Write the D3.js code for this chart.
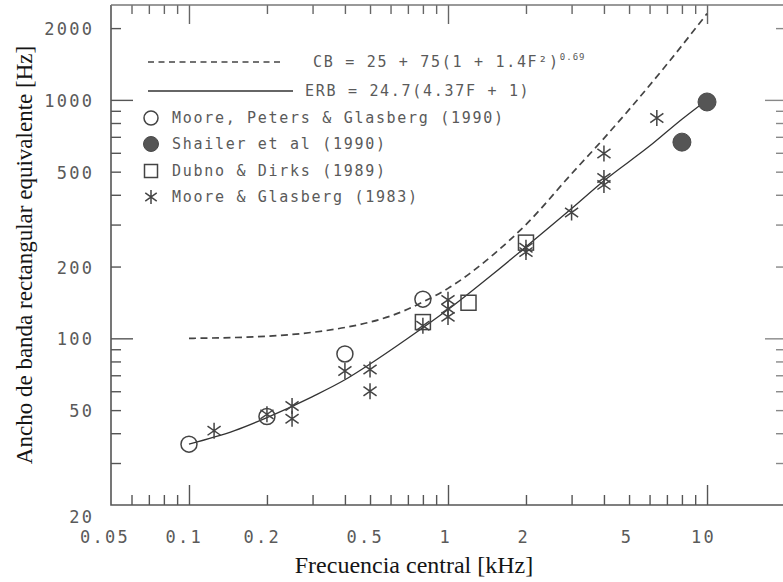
<!DOCTYPE html>
<html>
<head>
<meta charset="utf-8">
<script src="https://cdn.jsdelivr.net/npm/d3@7"></script>
<style>
  body { margin: 0; background: #fff; }
  svg { display: block; }
  .tl { font-family: "DejaVu Sans Mono", monospace; fill: #5a5a5a; }
  .ttl { font-family: "Liberation Serif", "Times New Roman", serif; fill: #151515; }
</style>
</head>
<body>
<script>
"use strict";
// axis labels (kHz / Hz)
const xLabels = [0.05, 0.1, 0.2, 0.5, 1, 2, 5, 10];
const yLabels = [20, 50, 100, 200, 500, 1000, 2000];
const xMajor = [0.1, 1, 10];
const yMajor = [100, 1000];

// curves: [kHz, Hz]
const cbCurve = [[0.1,100],[0.2,102],[0.3,106],[0.4,111],[0.5,117],[0.6,124],[0.8,142],[1,162],
  [1.5,225],[2,300],[3,490],[4,690],[5,910],[7,1410],[10,2300]];
const erbCurve = [[0.1,36],[0.15,41],[0.2,46.5],[0.3,57],[0.4,67],[0.5,78],[0.7,100],[1,132],
  [1.5,187],[2,242],[3,350],[4,458],[6,640],[8,830],[10,1000]];

// measured points
const moorePeters1990 = [[0.1,36],[0.2,47],[0.4,86],[0.8,146]];
const shailer1990 = [[8,665],[10,980]];
const dubnoDirks1989 = [[0.8,117],[1.2,141],[2,252]];
const mooreGlasberg1983 = [[0.125,41],[0.2,48],[0.25,52],[0.25,46],[0.4,73],[0.5,74],[0.5,60],
  [0.8,113],[1,145],[1,133],[1,123],[2,240],[2,230],[3,337],[4,596],[4,470],[4,440],[6.4,840]];

const legendNames = ["Moore, Peters & Glasberg (1990)", "Shailer et al (1990)",
  "Dubno & Dirks (1989)", "Moore & Glasberg (1983)"];

const W = 783, H = 582;
const L = 111, R = 785, T = 5, B = 505;
const ink = "#444";

const x = d3.scaleLog().domain([0.05, 20]).range([L, R]);
const y = d3.scaleLog().domain([20, 2500]).range([B, T]);

const svg = d3.select("body").append("svg").attr("width", W).attr("height", H);

// tick positions: every integer multiple inside each decade
const xTicks = [], yTicks = [];
[0.01, 0.1, 1].forEach(dec => d3.range(1, 10).forEach(k => {
  const v = +(k * dec).toFixed(3);
  if (v > 0.05) xTicks.push(v);
}));
xTicks.push(10);
[10, 100, 1000].forEach(dec => d3.range(1, 10).forEach(k => {
  const v = k * dec;
  if (v > 20 && v <= 2000) yTicks.push(v);
}));

function fixTicks(g, major, lenMaj, lenMin, horizontal, sign, col) {
  g.select(".domain").remove();
  g.selectAll(".tick line")
    .attr("stroke", col).attr("stroke-width", 1.4)
    .each(function(d) {
      const len = major.includes(d) ? lenMaj : lenMin;
      d3.select(this).attr(horizontal ? "x2" : "y2", sign * len);
    });
}

svg.append("g").attr("transform", `translate(0,${B})`)
  .call(d3.axisBottom(x).tickValues(xTicks).tickFormat(""))
  .call(g => fixTicks(g, xMajor, 20, 10, false, -1, "#555"));
svg.append("g").attr("transform", `translate(0,${T})`)
  .call(d3.axisTop(x).tickValues(xTicks).tickFormat(""))
  .call(g => fixTicks(g, xMajor, 19, 9, false, 1, "#666"));
svg.append("g").attr("transform", `translate(${L},0)`)
  .call(d3.axisLeft(y).tickValues(yTicks).tickFormat(""))
  .call(g => fixTicks(g, yMajor, 22, 10, true, 1, "#555"));
svg.append("g").attr("transform", `translate(${R},0)`)
  .call(d3.axisRight(y).tickValues(yTicks).tickFormat(""))
  .call(g => fixTicks(g, yMajor, 20, 9, true, -1, "#888"));

// frame
svg.append("path").attr("d", `M${R},${B}H${L}V${T}`)
  .attr("fill", "none").attr("stroke", "#555").attr("stroke-width", 1.6);
svg.append("path").attr("d", `M${L},${T}H${R}`)
  .attr("fill", "none").attr("stroke", "#777").attr("stroke-width", 1.3);

// tick labels
const ls = 2.3;
svg.append("g").selectAll("text").data(xLabels).join("text")
  .attr("class", "tl").attr("font-size", 17).attr("letter-spacing", ls)
  .attr("text-anchor", "middle")
  .attr("x", d => x(d) - 2 - String(d).length * 1.3 + ls / 2)
  .attr("y", 543)
  .text(d => d);
svg.append("g").selectAll("text").data(yLabels).join("text")
  .attr("class", "tl").attr("font-size", 17).attr("letter-spacing", ls)
  .attr("text-anchor", "end")
  .attr("x", 92 + ls)
  .attr("y", d => d === 20 ? 523 : y(d) + 7)
  .text(d => d);

// axis titles
svg.append("text").attr("class", "ttl").attr("font-size", 24)
  .attr("text-anchor", "middle").attr("x", 414).attr("y", 573)
  .text("Frecuencia central [kHz]");
svg.append("text").attr("class", "ttl").attr("font-size", 23)
  .attr("text-anchor", "middle")
  .attr("transform", "translate(32,255) rotate(-90)")
  .text("Ancho de banda rectangular equivalente [Hz]");

// curves
const line = d3.line().x(d => x(d[0])).y(d => y(d[1])).curve(d3.curveMonotoneX);
svg.append("path").datum(cbCurve).attr("d", line)
  .attr("fill", "none").attr("stroke", ink).attr("stroke-width", 1.7)
  .attr("stroke-dasharray", "7,4.5");
svg.append("path").datum(erbCurve).attr("d", line)
  .attr("fill", "none").attr("stroke", "#333").attr("stroke-width", 1.3);

// marker drawers
function starPath(r) {
  const ang = 35 * Math.PI / 180;
  const a = r * Math.cos(ang), b = r * Math.sin(ang);
  return `M0,${-r}V${r}M${-a},${-b}L${a},${b}M${-a},${b}L${a},${-b}`;
}
function drawOpen(g, cx, cy, r) {
  g.append("circle").attr("cx", cx).attr("cy", cy).attr("r", r)
    .attr("fill", "none").attr("stroke", ink).attr("stroke-width", 1.5);
}
function drawFilled(g, cx, cy, r) {
  g.append("circle").attr("cx", cx).attr("cy", cy).attr("r", r)
    .attr("fill", "#555").attr("stroke", "#4a4a4a").attr("stroke-width", 1);
}
function drawSquare(g, cx, cy, s) {
  g.append("rect").attr("x", cx - s / 2).attr("y", cy - s / 2).attr("width", s).attr("height", s)
    .attr("fill", "none").attr("stroke", ink).attr("stroke-width", 1.5);
}
function drawStar(g, cx, cy, r) {
  g.append("path").attr("d", starPath(r)).attr("transform", `translate(${cx},${cy})`)
    .attr("fill", "none").attr("stroke", ink).attr("stroke-width", 1.5);
}

const pts = svg.append("g");
moorePeters1990.forEach(d => drawOpen(pts, x(d[0]), y(d[1]), 8));
shailer1990.forEach(d => drawFilled(pts, x(d[0]), y(d[1]), 9));
dubnoDirks1989.forEach(d => drawSquare(pts, x(d[0]), y(d[1]), 15));
mooreGlasberg1983.forEach(d => drawStar(pts, x(d[0]), y(d[1]), 8));

// legend
const lg = svg.append("g");
lg.append("line").attr("x1", 148).attr("x2", 284).attr("y1", 62).attr("y2", 62)
  .attr("stroke", ink).attr("stroke-width", 1.4).attr("stroke-dasharray", "6,4.5");
lg.append("line").attr("x1", 148).attr("x2", 293).attr("y1", 91).attr("y2", 91)
  .attr("stroke", "#333").attr("stroke-width", 1.4);
const lt = (xx, yy) => lg.append("text").attr("class", "tl").attr("font-size", 15)
  .attr("letter-spacing", 1.7).attr("x", xx).attr("y", yy);
const cb = lt(313, 67);
cb.append("tspan").text("CB = 25 + 75(1 + 1.4F²)");
cb.append("tspan").attr("font-size", 9).attr("letter-spacing", 1).attr("dy", -7).text("0.69");
lt(305, 96).text("ERB = 24.7(4.37F + 1)");
const rowsY = [118, 144, 171, 197];
drawOpen(lg, 151, rowsY[0], 7);
drawFilled(lg, 151, rowsY[1], 7.5);
drawSquare(lg, 151, rowsY[2], 13);
drawStar(lg, 151, rowsY[3], 7);
legendNames.forEach((n, i) => lt(172, rowsY[i] + 5).text(n));
</script>
</body>
</html>
